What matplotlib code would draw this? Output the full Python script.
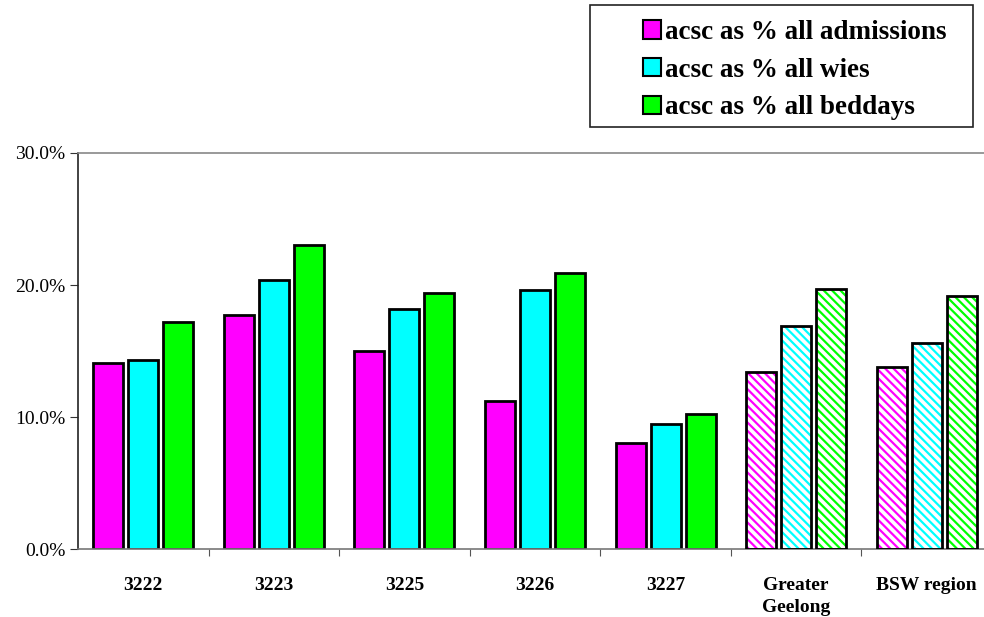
import matplotlib.pyplot as plt
import numpy as np
from matplotlib.patches import Patch, Rectangle

# categories and series (percent)
categories = ["3222", "3223", "3225", "3226", "3227", "Greater\nGeelong", "BSW region"]
admissions = [14.1, 17.7, 15.0, 11.2, 8.0, 13.4, 13.8]
wies = [14.3, 20.4, 18.2, 19.6, 9.5, 16.9, 15.6]
beddays = [17.2, 23.0, 19.4, 20.9, 10.2, 19.7, 19.2]
series_names = ["acsc as % all admissions", "acsc as % all wies", "acsc as % all beddays"]
colors = ["#ff00ff", "#00ffff", "#00ff00"]
hatched = [False, False, False, False, False, True, True]

plt.rcParams['font.family'] = ['Liberation Serif', 'DejaVu Serif']
plt.rcParams['hatch.linewidth'] = 1.6

W, H = 984, 617
fig = plt.figure(figsize=(W / 100, H / 100), dpi=100)
ax = fig.add_axes([78 / W, 1 - 549 / H, (992 - 78) / W, (549 - 153) / H])

x = np.arange(len(categories))
width = 0.23
step = 0.268
for i, (vals, col) in enumerate(zip([admissions, wies, beddays], colors)):
    pos = x + (i - 1) * step
    for p, v, h in zip(pos, vals, hatched):
        if h:
            # coloured stripes on white, then a black outline on top
            ax.bar(p, v, width, color="white", edgecolor=col, hatch="\\\\\\\\", linewidth=0, zorder=2)
            ax.bar(p, v, width, fill=False, edgecolor="black", linewidth=2, zorder=3)
        else:
            ax.bar(p, v, width, color=col, edgecolor="black", linewidth=2, zorder=2)

ax.set_xlim(-0.5, len(categories) - 0.5)
ax.set_ylim(0, 30)
ax.set_yticks([0, 10, 20, 30])
ax.set_yticklabels(["0.0%", "10.0%", "20.0%", "30.0%"], fontsize=14)
ax.tick_params(axis="y", direction="out", length=6, color="#333333", pad=3)

ax.set_xticks(x[:-1] + 0.5)
ax.set_xticklabels([])
ax.set_xticks(x, minor=True)
ax.set_xticklabels(categories, minor=True, fontsize=14, fontweight="bold", va="top", linespacing=1.4)
ax.tick_params(axis="x", which="major", direction="out", length=5, color="#555555")
ax.tick_params(axis="x", which="minor", length=0, pad=20)

ax.spines["left"].set_color("#222222")
ax.spines["left"].set_linewidth(1.2)
ax.spines["bottom"].set_color("#777777")
ax.spines["bottom"].set_linewidth(1.2)
ax.spines["top"].set_color("#888888")
ax.spines["top"].set_linewidth(1.2)
ax.spines["right"].set_visible(False)

# legend box
fig.patches.append(Rectangle((590 / W, 1 - 127 / H), (973 - 590) / W, (127 - 5) / H,
                             transform=fig.transFigure, fill=False,
                             edgecolor="#222222", linewidth=1.2))
handles = [Patch(facecolor=c, edgecolor="black", linewidth=1.5) for c in colors]
leg = fig.legend(handles, series_names, loc="upper left",
                 bbox_to_anchor=(643 / W, 1 - 20 / H),
                 prop={"size": 19.5, "weight": "bold"},
                 frameon=False,
                 handlelength=0.65, handleheight=0.65, handletextpad=0.15,
                 labelspacing=0.47, borderpad=0, borderaxespad=0)

fig.savefig("out.png", dpi=100)
